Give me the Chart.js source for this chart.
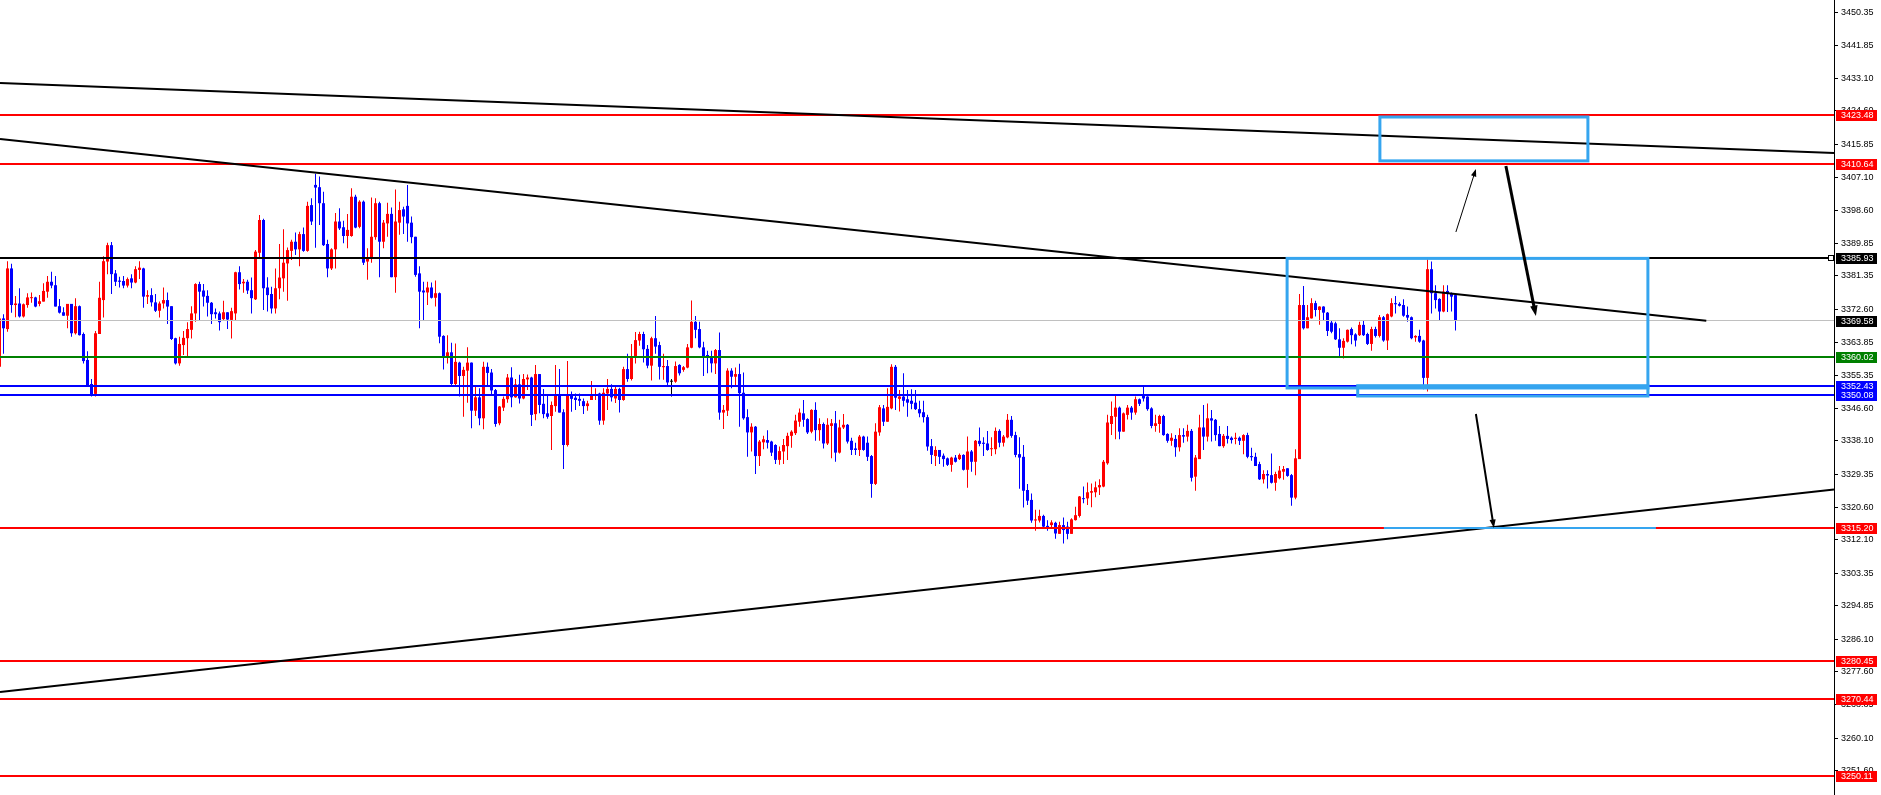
<!DOCTYPE html>
<html><head><meta charset="utf-8">
<script src="https://cdn.jsdelivr.net/npm/chart.js@4/dist/chart.umd.min.js"></script>
<style>html,body{margin:0;padding:0;background:#fff;overflow:hidden}</style>
</head><body>
<canvas id="c" width="1881" height="795"></canvas>
<script>
// ---- data (bar index, OHLC) ----
const firstBar = -1;
const opens = [3357.5,
3370.2,3367.4,3383.3,3373.7,3374.1,3370.7,3373.7,3375.5,3375.7,3374.0,
3374.6,3377.2,3379.8,3378.9,3373.4,3371.8,3370.9,3374.0,3366.3,3373.4,
3366.1,3359.3,3353.0,3350.4,3366.1,3375.0,3385.1,3389.4,3382.0,3380.1,
3380.0,3378.8,3380.7,3379.6,3382.9,3383.3,3375.9,3376.3,3374.4,3372.2,
3374.1,3375.0,3373.4,3365.0,3358.4,3363.2,3365.0,3367.2,3371.5,3379.2,
3377.5,3376.1,3374.3,3371.8,3371.5,3370.0,3371.8,3369.8,3371.5,3382.3,
3379.4,3379.8,3377.6,3375.2,3387.4,3396.0,3378.3,3376.6,3372.8,3378.1,
3380.7,3384.6,3387.9,3390.3,3388.3,3392.3,3387.9,3399.9,3405.2,3404.6,
3400.4,3389.7,3383.3,3388.3,3395.6,3394.1,3391.8,3391.8,3402.1,3394.2,
3400.8,3385.1,3386.2,3391.5,3400.4,3390.3,3395.1,3397.6,3381.0,3395.3,
3398.8,3399.7,3395.3,3391.6,3382.0,3377.5,3377.0,3378.3,3375.6,3376.8,
3365.6,3360.2,3361.3,3353.0,3358.6,3355.1,3356.5,3358.6,3346.0,3349.5,
3344.0,3357.5,3356.0,3351.4,3342.7,3346.8,3349.0,3354.7,3349.5,3352.9,
3349.2,3354.2,3354.7,3345.1,3355.6,3347.8,3345.3,3344.6,3347.2,3350.1,
3345.6,3337.0,3350.1,3349.4,3349.1,3348.5,3347.2,3348.8,3350.0,3350.5,
3343.4,3350.5,3351.7,3349.2,3351.7,3348.8,3356.9,3354.3,3360.0,3364.4,
3366.1,3362.2,3357.8,3365.0,3363.2,3357.4,3357.7,3353.6,3353.6,3358.0,
3356.7,3357.3,3362.5,3369.3,3367.4,3362.6,3360.6,3360.3,3358.4,3361.9,
3345.5,3346.0,3356.5,3354.9,3355.6,3350.7,3344.3,3340.3,3341.8,3334.1,
3337.7,3338.3,3337.9,3337.0,3333.1,3335.3,3336.7,3339.4,3340.1,3343.1,
3345.3,3343.8,3340.5,3346.2,3340.9,3342.5,3337.4,3342.0,3342.7,3335.0,
3341.6,3342.3,3338.1,3336.1,3335.7,3339.2,3337.6,3334.1,3326.8,3340.3,
3346.6,3343.1,3346.6,3357.5,3349.1,3349.7,3349.0,3348.6,3348.1,3346.4,
3345.6,3344.3,3336.7,3334.1,3335.7,3334.2,3333.5,3331.8,3333.7,3333.3,
3334.4,3330.5,3335.3,3332.6,3338.1,3337.6,3337.4,3335.9,3335.9,3340.7,
3337.6,3339.0,3343.6,3339.6,3334.6,3333.9,3325.2,3322.6,3317.2,3317.2,
3318.4,3315.8,3316.0,3316.6,3313.7,3316.0,3315.6,3313.7,3317.3,3318.4,
3323.0,3323.0,3324.5,3324.6,3325.9,3326.1,3332.2,3342.5,3344.4,3346.8,
3340.5,3344.9,3346.8,3345.5,3349.0,3350.1,3349.7,3346.6,3342.0,3342.5,
3344.6,3339.9,3338.1,3338.6,3336.4,3339.6,3339.2,3340.7,3328.7,3333.3,
3341.6,3339.2,3344.0,3343.6,3339.9,3336.7,3339.4,3338.9,3338.6,3338.9,
3338.1,3339.6,3334.1,3333.9,3332.0,3328.0,3329.4,3329.1,3327.1,3328.3,
3330.0,3330.9,3329.1,3323.2,3333.3,3373.7,3367.6,3370.2,3374.2,3372.4,
3373.3,3371.7,3369.1,3368.9,3364.7,3362.5,3364.1,3367.4,3366.0,3365.8,
3368.5,3366.1,3363.5,3367.4,3365.6,3370.5,3364.4,3370.7,3374.2,3374.0,
3373.7,3371.1,3370.5,3365.2,3365.6,3364.4,3354.6,3383.1,3376.8,3375.3,
3372.0,3377.4,3376.8,3376.3];
const highs = [3370.6,
3371.3,3385.2,3384.5,3376.1,3378.1,3374.1,3376.8,3377.0,3375.9,3376.3,
3379.4,3381.3,3382.4,3381.3,3375.3,3373.1,3374.0,3374.0,3375.5,3373.6,
3366.5,3361.6,3354.3,3366.9,3379.8,3386.5,3390.0,3390.2,3382.9,3381.1,
3381.3,3380.9,3381.8,3383.9,3385.2,3383.5,3377.6,3378.1,3376.6,3374.6,
3378.3,3377.0,3373.4,3365.1,3365.4,3366.9,3369.2,3373.4,3379.4,3379.8,
3379.2,3377.6,3374.5,3372.8,3372.0,3374.8,3371.8,3373.0,3382.4,3383.9,
3380.5,3380.3,3380.9,3388.1,3397.3,3396.3,3381.0,3378.5,3383.3,3389.7,
3393.6,3388.8,3390.8,3392.7,3392.9,3394.0,3400.8,3401.7,3408.1,3407.4,
3403.4,3390.8,3388.6,3397.8,3399.1,3395.8,3397.6,3404.3,3402.6,3401.2,
3401.1,3388.6,3401.9,3401.7,3400.8,3396.0,3400.5,3399.3,3404.0,3400.8,
3399.5,3405.2,3396.9,3391.6,3383.9,3379.8,3379.8,3379.6,3380.1,3377.0,
3365.8,3365.8,3363.8,3363.6,3358.8,3357.5,3362.6,3358.6,3352.3,3351.9,
3358.8,3358.6,3356.9,3351.7,3347.2,3349.7,3355.6,3357.4,3354.3,3355.4,
3355.6,3355.5,3354.9,3358.0,3355.6,3351.7,3350.1,3348.4,3358.0,3356.9,
3346.4,3359.0,3351.0,3350.5,3350.5,3349.2,3348.6,3353.8,3351.9,3350.7,
3351.9,3354.3,3352.9,3352.3,3352.0,3357.5,3360.9,3363.5,3366.6,3366.7,
3366.7,3363.2,3365.4,3370.8,3364.1,3360.9,3359.3,3354.3,3358.9,3358.2,
3357.7,3363.5,3374.9,3370.8,3369.3,3364.1,3361.7,3361.7,3362.2,3366.5,
3347.5,3357.1,3357.1,3357.3,3358.3,3356.0,3346.4,3342.7,3342.0,3338.3,
3339.4,3340.9,3338.1,3337.2,3336.6,3338.6,3340.2,3340.9,3344.9,3346.6,
3348.8,3344.0,3346.4,3348.2,3344.0,3342.9,3344.0,3343.8,3345.9,3343.6,
3345.1,3342.5,3338.9,3337.6,3339.6,3339.4,3339.2,3334.4,3342.7,3347.5,
3347.5,3351.9,3358.2,3358.0,3351.4,3355.8,3351.4,3351.6,3351.4,3348.6,
3348.6,3344.9,3338.6,3336.7,3335.7,3334.8,3333.7,3333.9,3334.4,3334.8,
3334.6,3339.2,3335.7,3338.3,3341.6,3339.0,3340.7,3339.0,3341.6,3341.1,
3339.6,3345.1,3344.6,3340.5,3339.0,3337.0,3326.8,3324.3,3320.0,3320.0,
3318.7,3317.3,3317.3,3316.9,3316.9,3318.0,3316.9,3317.8,3320.8,3323.6,
3326.1,3327.2,3326.9,3327.4,3328.0,3333.1,3344.9,3348.4,3350.1,3347.1,
3345.5,3347.5,3347.2,3349.7,3349.2,3352.5,3349.8,3346.9,3344.9,3344.9,
3344.9,3340.1,3340.1,3339.6,3341.4,3341.4,3342.3,3341.2,3334.4,3344.9,
3347.5,3347.9,3346.2,3343.8,3342.0,3339.9,3342.0,3339.2,3340.2,3339.2,
3339.8,3340.2,3336.3,3335.0,3332.6,3330.4,3330.4,3334.8,3330.0,3331.5,
3331.5,3330.9,3329.4,3335.9,3376.6,3378.7,3373.7,3375.5,3374.8,3373.4,
3373.4,3371.9,3369.6,3369.3,3367.6,3365.0,3367.3,3367.8,3366.3,3369.3,
3369.6,3366.4,3368.0,3368.0,3371.1,3370.8,3371.5,3375.5,3376.1,3374.4,
3375.2,3373.3,3370.7,3365.8,3367.2,3364.6,3385.7,3385.1,3378.9,3375.5,
3378.9,3378.9,3377.0,3376.5];
const lows = [3356.8,
3360.9,3366.7,3371.7,3370.5,3370.4,3370.4,3373.0,3374.3,3373.1,3373.4,
3374.6,3375.6,3378.1,3373.3,3371.5,3370.9,3367.6,3365.4,3366.0,3365.7,
3358.4,3352.6,3349.7,3349.7,3366.1,3370.4,3381.8,3376.6,3378.7,3378.3,
3378.1,3378.3,3378.1,3379.4,3380.5,3373.0,3374.0,3373.3,3371.9,3370.4,
3372.8,3368.7,3364.5,3358.1,3357.8,3360.6,3360.3,3364.9,3369.3,3369.8,
3373.3,3370.7,3368.7,3370.2,3367.0,3369.8,3367.4,3364.9,3369.8,3377.8,
3376.9,3376.6,3371.5,3375.0,3386.2,3372.4,3372.0,3371.5,3371.5,3375.2,
3377.2,3374.8,3385.5,3386.8,3383.9,3387.7,3387.7,3394.7,3388.7,3394.7,
3389.2,3381.0,3382.9,3383.3,3393.4,3389.9,3388.6,3391.6,3393.8,3393.8,
3384.2,3380.3,3384.8,3390.8,3381.0,3388.6,3391.6,3381.0,3376.9,3392.1,
3392.3,3390.3,3389.9,3381.1,3367.6,3369.6,3373.7,3375.4,3373.3,3363.7,
3356.8,3358.4,3352.7,3352.7,3349.7,3344.4,3348.1,3341.4,3344.6,3342.2,
3341.1,3352.3,3350.1,3341.8,3342.2,3345.9,3348.1,3346.9,3349.4,3347.9,
3349.0,3351.4,3342.0,3343.5,3345.3,3344.0,3343.9,3335.7,3345.7,3345.5,
3330.7,3336.6,3345.7,3346.2,3347.2,3345.1,3346.0,3348.8,3348.8,3342.3,
3342.3,3346.2,3348.4,3348.0,3345.5,3348.6,3353.6,3353.9,3358.4,3363.0,
3358.6,3357.1,3353.9,3360.9,3354.2,3354.1,3352.7,3349.7,3353.3,3355.2,
3356.2,3357.1,3362.4,3365.0,3362.4,3355.1,3355.8,3356.0,3355.6,3343.6,
3341.2,3344.6,3351.9,3352.7,3341.8,3343.6,3333.9,3335.3,3329.4,3331.5,
3335.9,3336.1,3334.1,3332.0,3331.8,3332.0,3333.1,3336.3,3339.6,3341.8,
3341.8,3339.9,3340.1,3338.1,3338.1,3336.1,3337.0,3333.5,3332.6,3334.8,
3341.2,3337.4,3334.4,3334.4,3334.1,3335.5,3332.8,3323.2,3326.5,3339.4,
3342.0,3343.1,3346.4,3346.2,3345.8,3347.1,3344.4,3346.4,3346.2,3344.3,
3342.9,3335.5,3332.0,3331.5,3332.0,3331.3,3331.5,3330.0,3332.4,3333.1,
3330.3,3325.8,3330.0,3329.1,3336.7,3334.1,3335.5,3334.1,3334.6,3336.4,
3336.6,3338.8,3338.9,3333.8,3325.5,3320.6,3321.3,3316.6,3314.5,3316.7,
3315.4,3314.5,3315.2,3312.4,3313.7,3311.2,3312.3,3313.7,3317.2,3318.0,
3321.7,3321.3,3320.7,3323.3,3323.9,3325.9,3331.8,3339.6,3338.5,3338.5,
3340.5,3343.7,3343.6,3344.9,3347.2,3348.4,3346.0,3341.4,3340.5,3340.2,
3339.4,3337.6,3336.8,3333.9,3335.3,3337.6,3337.9,3327.4,3325.0,3333.3,
3335.7,3337.9,3337.9,3338.1,3336.7,3336.3,3337.4,3337.4,3337.2,3337.0,
3334.6,3333.5,3332.9,3331.5,3327.8,3326.9,3325.6,3326.9,3325.0,3328.0,
3327.9,3328.7,3321.1,3322.8,3333.3,3367.3,3367.6,3370.2,3370.7,3368.5,
3369.8,3365.6,3366.3,3364.5,3360.2,3359.7,3363.9,3363.4,3362.8,3365.6,
3365.6,3363.2,3361.7,3365.2,3365.2,3364.1,3361.9,3370.5,3371.5,3373.3,
3370.6,3369.3,3364.7,3364.1,3363.8,3351.6,3351.0,3371.5,3372.8,3369.6,
3371.8,3371.9,3372.0,3367.0];
const closes = [3370.2,
3367.6,3383.3,3373.7,3374.1,3370.7,3373.9,3375.7,3375.7,3373.3,3374.7,
3377.4,3379.8,3378.8,3373.3,3371.7,3370.9,3374.0,3366.3,3373.4,3365.8,
3359.0,3352.6,3350.3,3366.3,3375.6,3385.2,3389.4,3381.8,3379.8,3379.8,
3378.8,3380.5,3379.6,3383.1,3383.5,3375.9,3376.3,3374.4,3372.2,3374.1,
3375.0,3373.3,3364.8,3358.4,3363.5,3365.1,3367.4,3371.5,3379.2,3377.2,
3375.9,3374.3,3371.3,3371.3,3369.2,3371.8,3369.9,3372.1,3382.3,3379.2,
3379.8,3377.5,3375.5,3387.7,3396.0,3378.1,3376.3,3372.8,3378.1,3380.9,
3384.8,3388.1,3390.3,3388.3,3392.3,3387.9,3399.7,3395.6,3404.5,3400.4,
3389.4,3383.3,3388.3,3395.6,3393.8,3391.8,3393.4,3402.1,3394.0,3400.8,
3384.8,3386.2,3391.6,3400.4,3390.3,3395.3,3397.6,3381.0,3395.6,3398.6,
3396.9,3395.1,3391.5,3381.6,3377.2,3377.0,3378.3,3375.6,3376.8,3365.4,
3360.2,3361.3,3353.0,3358.8,3355.1,3356.7,3358.6,3346.0,3349.5,3344.0,
3357.5,3355.9,3351.3,3342.5,3347.1,3349.1,3354.7,3349.5,3352.9,3349.2,
3354.3,3354.7,3344.9,3355.6,3347.5,3345.1,3344.4,3347.5,3350.1,3345.5,
3337.0,3350.1,3349.1,3348.8,3348.6,3347.2,3347.9,3350.1,3350.3,3343.4,
3350.7,3351.7,3349.5,3351.7,3348.8,3356.9,3354.3,3360.0,3364.5,3366.1,
3362.1,3357.8,3365.0,3362.8,3357.5,3357.7,3353.4,3353.6,3357.7,3355.8,
3357.4,3362.6,3369.3,3367.2,3362.6,3360.3,3360.2,3358.4,3361.9,3345.5,
3346.2,3356.5,3354.9,3355.6,3350.6,3344.0,3340.3,3341.8,3334.1,3337.9,
3338.5,3337.6,3335.0,3333.1,3335.4,3337.0,3339.4,3340.5,3343.4,3345.5,
3343.6,3340.3,3346.2,3340.9,3342.5,3337.4,3342.3,3342.7,3335.0,3341.6,
3342.3,3337.9,3335.7,3335.7,3339.2,3335.7,3333.9,3326.8,3340.5,3346.9,
3343.1,3347.0,3357.5,3349.4,3349.7,3348.6,3348.1,3347.8,3346.4,3345.3,
3344.3,3336.6,3334.4,3335.7,3333.9,3333.3,3331.8,3333.7,3332.6,3334.4,
3330.5,3335.3,3332.6,3338.1,3337.3,3337.3,3335.7,3336.1,3340.7,3337.6,
3339.2,3343.6,3339.4,3334.4,3333.7,3325.0,3322.4,3317.2,3317.5,3318.4,
3315.6,3315.4,3316.7,3313.8,3316.0,3314.7,3313.7,3317.5,3318.6,3323.5,
3322.8,3324.6,3324.9,3325.9,3326.5,3332.6,3342.9,3344.6,3346.8,3340.5,
3345.3,3346.8,3345.5,3349.0,3347.8,3349.2,3346.4,3342.0,3342.7,3344.6,
3339.6,3338.1,3338.9,3336.4,3339.6,3339.2,3340.7,3328.4,3333.7,3341.6,
3339.2,3344.0,3343.4,3339.6,3336.7,3339.4,3338.6,3338.3,3338.9,3338.1,
3339.6,3333.9,3333.8,3331.5,3328.0,3329.4,3329.0,3327.1,3329.4,3330.3,
3330.7,3328.9,3323.2,3333.5,3373.7,3367.6,3370.5,3374.2,3372.4,3373.3,
3371.7,3366.9,3366.7,3364.7,3362.5,3364.3,3367.2,3365.8,3364.4,3368.5,
3365.8,3363.5,3367.4,3365.6,3370.5,3364.4,3371.3,3374.2,3373.9,3373.5,
3370.9,3370.4,3365.0,3365.6,3364.1,3354.6,3383.1,3376.8,3375.0,3372.0,
3377.2,3376.8,3375.9,3369.58];

// right price-axis tick labels
const yTicks = [3450.35,3441.85,3433.10,3424.60,3415.85,3407.10,3398.60,3389.85,3381.35,3372.60,3363.85,3355.35,
  3346.60,3338.10,3329.35,3320.60,3312.10,3303.35,3294.85,3286.10,3277.60,3268.85,3260.10,3251.60];
const yMin = 3245.23, yMax = 3453.68;
const xMin = -0.875, xMax = 457.625;

// horizontal price levels
const levelPrices = [3423.48, 3410.64, 3385.93, 3369.58, 3360.02, 3352.43, 3350.08, 3315.20, 3280.45, 3270.44, 3250.11];
const levelKinds  = ['red','red','black','bid','green','blue','blue','red','red','red','red'];

// trend lines [bar1, price1, bar2, price2]
const trendUpper  = [-0.875, 3431.92, 457.625, 3413.56];
const trendMiddle = [-0.875, 3417.23, 425.7, 3369.6];
const trendLower  = [-0.875, 3272.24, 457.625, 3325.31];

// rectangles [bar1, price1, bar2, price2]
const boxTop    = [344.1, 3423.0, 396.1, 3411.5];
const boxMid    = [320.9, 3385.93, 411.1, 3351.95];
const boxLow    = [338.55, 3352.55, 411.1, 3349.85];
const segTarget = [345.1, 3315.2, 413.1, 3315.2];

// arrows [fromBar, fromPrice, toBar, toPrice]
const arrowUp    = [363.1, 3392.85, 368.1, 3409.37];
const arrowDown1 = [375.6, 3410.16, 383.1, 3370.83];
const arrowDown2 = [368.1, 3345.13, 372.6, 3315.24];

// ---- build datasets ----
const RED = '#ff0000', BLUE = '#0000ff';
const upB=[], dnB=[], djB=[], upW=[], dnW=[], djW=[];
opens.forEach((o, i) => {
  const c = closes[i], x = firstBar + i;
  const body = {x, y:[Math.min(o,c), Math.max(o,c)]};
  const wick = {x, y:[lows[i], highs[i]]};
  if (c > o) { upB.push(body); upW.push(wick); }
  else if (c < o) { dnB.push(body); dnW.push(wick); }
  else { djB.push(body); djW.push(wick); }
});
const ds = (data, color, pct, minLen) => ({
  type:'bar', data, backgroundColor: color, borderWidth: 0, grouped: false,
  barPercentage: pct, categoryPercentage: 1, minBarLength: minLen || 0
});

const kindStyle = {
  red:   {color: RED, w: 2, box: RED},
  black: {color: '#000', w: 2, box: '#000'},
  bid:   {color: '#c0c0c0', w: 1, box: '#000'},
  green: {color: '#008000', w: 2, box: '#008000'},
  blue:  {color: BLUE, w: 2, box: BLUE}
};

const overlay = {
  id: 'overlay',
  afterDatasetsDraw(chart) {
    const {ctx, chartArea: a, scales: {x, y}} = chart;
    const P = (b, p) => [x.getPixelForValue(b), y.getPixelForValue(p)];
    ctx.save();
    ctx.beginPath(); ctx.rect(a.left, a.top, a.right - a.left, a.bottom - a.top); ctx.clip();
    // levels
    levelPrices.forEach((p, i) => {
      const s = kindStyle[levelKinds[i]];
      const py = y.getPixelForValue(p);
      ctx.fillStyle = s.color;
      if (s.w === 1) ctx.fillRect(a.left, Math.floor(py), a.right - a.left, 1);
      else ctx.fillRect(a.left, Math.round(py) - 1, a.right - a.left, 2);
    });
    // trend lines
    ctx.strokeStyle = '#000'; ctx.lineWidth = 2;
    [trendUpper, trendMiddle, trendLower].forEach(t => {
      const [x1,y1] = P(t[0],t[1]), [x2,y2] = P(t[2],t[3]);
      ctx.beginPath(); ctx.moveTo(x1,y1); ctx.lineTo(x2,y2); ctx.stroke();
    });
    // rectangles
    ctx.strokeStyle = '#35a5ef'; ctx.lineWidth = 3;
    [boxTop, boxMid, boxLow].forEach(r => {
      const [x1,y1] = P(r[0],r[1]), [x2,y2] = P(r[2],r[3]);
      ctx.strokeRect(Math.min(x1,x2), Math.min(y1,y2), Math.abs(x2-x1), Math.abs(y2-y1));
    });
    {
      const [x1,y1] = P(segTarget[0],segTarget[1]), [x2] = P(segTarget[2],segTarget[3]);
      ctx.fillStyle = '#35a5ef'; ctx.fillRect(x1, Math.round(y1)-1, x2-x1, 2);
    }
    // arrows
    const arrow = (t, lw, head) => {
      const [x1,y1] = P(t[0],t[1]), [x2,y2] = P(t[2],t[3]);
      const ang = Math.atan2(y2-y1, x2-x1);
      ctx.strokeStyle = '#000'; ctx.fillStyle = '#000'; ctx.lineWidth = lw;
      ctx.beginPath(); ctx.moveTo(x1,y1);
      ctx.lineTo(x2 - Math.cos(ang)*head*0.8, y2 - Math.sin(ang)*head*0.8); ctx.stroke();
      ctx.beginPath(); ctx.moveTo(x2,y2);
      ctx.lineTo(x2 - head*Math.cos(ang-0.35), y2 - head*Math.sin(ang-0.35));
      ctx.lineTo(x2 - head*Math.cos(ang+0.35), y2 - head*Math.sin(ang+0.35));
      ctx.closePath(); ctx.fill();
    };
    arrow(arrowUp, 1, 8);
    arrow(arrowDown1, 3, 11);
    arrow(arrowDown2, 2, 9);
    ctx.restore();

    // price labels on the axis
    ctx.save();
    ctx.font = '9px "Liberation Sans", Arial, sans-serif';
    ctx.textBaseline = 'middle'; ctx.textAlign = 'left';
    levelPrices.forEach((p, i) => {
      const s = kindStyle[levelKinds[i]];
      const py = Math.round(y.getPixelForValue(p));
      ctx.fillStyle = s.box;
      ctx.fillRect(a.right + 2, py - 5, 41, 11);
      ctx.fillStyle = '#fff';
      ctx.fillText(p.toFixed(2), a.right + 7, py + 0.5);
    });
    // small square marker at the black level
    const pyb = Math.round(y.getPixelForValue(levelPrices[2]));
    ctx.fillStyle = '#fff'; ctx.strokeStyle = '#000'; ctx.lineWidth = 1;
    ctx.fillRect(a.right - 5, pyb - 2, 4, 4);
    ctx.strokeRect(a.right - 5.5, pyb - 2.5, 5, 5);
    ctx.restore();
  }
};

new Chart(document.getElementById('c'), {
  data: {
    datasets: [
      ds(upW, RED, 0.25), ds(dnW, BLUE, 0.25), ds(djW, '#000', 0.25),
      ds(upB, RED, 0.75, 1), ds(dnB, BLUE, 0.75, 1), ds(djB, '#000', 0.75, 1)
    ]
  },
  options: {
    responsive: false, animation: false, devicePixelRatio: 1,
    layout: {padding: 0},
    plugins: {legend: {display: false}, tooltip: {enabled: false}},
    scales: {
      x: {type: 'linear', min: xMin, max: xMax, display: false, offset: false},
      y: {
        type: 'linear', position: 'right', min: yMin, max: yMax,
        grid: {drawOnChartArea: false, drawTicks: true, tickLength: 4, color: '#000', tickColor: '#000'},
        border: {display: true, color: '#000', width: 1},
        ticks: {
          autoSkip: false, color: '#000', padding: 3,
          font: {family: '"Liberation Sans", Arial, sans-serif', size: 9},
          callback: v => Number(v).toFixed(2)
        },
        afterBuildTicks: s => { s.ticks = yTicks.map(v => ({value: v})); },
        afterFit: s => { s.width = 47; s.paddingTop = 0; s.paddingBottom = 0; }
      }
    }
  },
  plugins: [overlay]
});
</script>
</body></html>
